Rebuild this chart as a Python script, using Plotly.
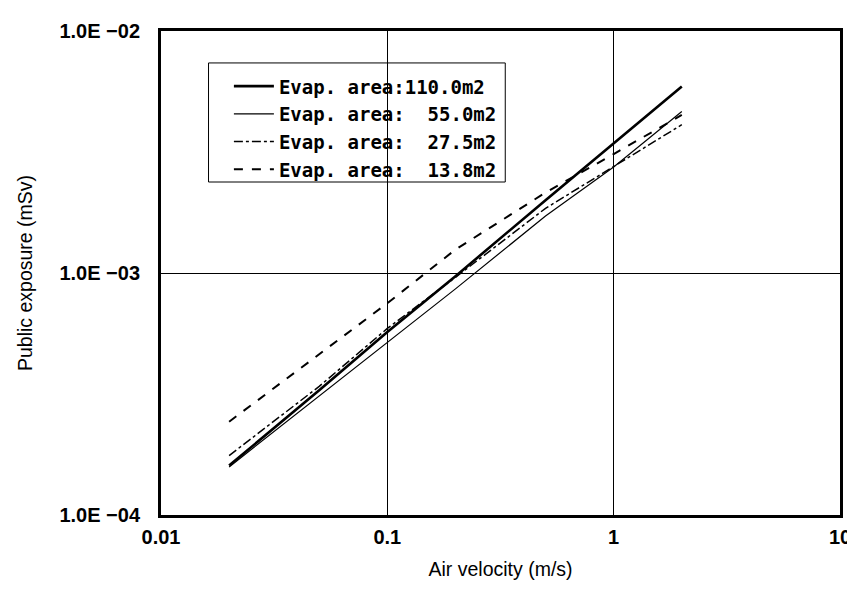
import plotly.graph_objects as go

velocity = [0.02, 0.05, 0.1, 0.2, 0.5, 1, 2]
area_110 = [1.6e-4, 3.28e-4, 5.7e-4, 9.7e-4, 2.0e-3, 3.44e-3, 5.9e-3]
area_55 = [1.58e-4, 3.1e-4, 5.2e-4, 8.6e-4, 1.72e-3, 2.74e-3, 4.65e-3]
area_27 = [1.76e-4, 3.4e-4, 5.9e-4, 9.6e-4, 1.85e-3, 2.76e-3, 4.1e-3]
area_13 = [2.43e-4, 4.6e-4, 7.5e-4, 1.25e-3, 2.15e-3, 3.1e-3, 4.5e-3]

names = ["Evap. area:110.0m2", "Evap. area:\u00a0\u00a055.0m2",
         "Evap. area:\u00a0\u00a027.5m2", "Evap. area:\u00a0\u00a013.8m2"]
series = [area_110, area_55, area_27, area_13]
styles = [dict(width=2.6, dash="solid"), dict(width=1.2, dash="solid"),
          dict(width=1.5, dash="dashdot"), dict(width=2.0, dash="dash")]

xticks = [0.01, 0.1, 1, 10]
xticktext = ["0.01", "0.1", "1", "10"]
yticks = [1e-4, 1e-3, 1e-2]
yticktext = ["1.0E \u221204", "1.0E \u221203", "1.0E \u221202"]

fig = go.Figure()
for n, s, st in zip(names, series, styles):
    fig.add_trace(go.Scatter(x=velocity, y=s, mode="lines", name=n,
                             line=dict(color="black", **st)))

tickfont = dict(size=20, family="Liberation Sans, Arial", weight="bold")
fig.update_layout(
    width=855, height=591,
    margin=dict(l=153, r=12, t=20, b=84),
    paper_bgcolor="white", plot_bgcolor="white",
    font=dict(family="Liberation Sans, Arial", color="black"),
    showlegend=True,
    legend=dict(x=0.1, y=0.925, xanchor="left", yanchor="top",
                borderwidth=0, bgcolor="rgba(0,0,0,0)",
                font=dict(family="DejaVu Sans Mono", size=19, weight="bold"),
                tracegroupgap=0, itemwidth=40),
    shapes=[dict(type="rect", xref="paper", yref="paper",
                 x0=0.07, x1=0.507, y0=0.688, y1=0.934,
                 line=dict(color="black", width=1), fillcolor="white",
                 layer="between")],
)
fig.update_xaxes(type="log", range=[-2, 1], tickvals=xticks, ticktext=xticktext,
                 showgrid=True, gridcolor="black", gridwidth=1,
                 showline=True, linecolor="black", linewidth=3, mirror=True,
                 ticks="", tickfont=tickfont, ticklabelstandoff=2,
                 title=dict(text="Air velocity (m/s)", font=dict(size=19.5), standoff=16))
fig.update_yaxes(type="log", range=[-4, -2], tickvals=yticks, ticktext=yticktext,
                 showgrid=True, gridcolor="black", gridwidth=1,
                 showline=True, linecolor="black", linewidth=3, mirror=True,
                 ticks="", tickfont=tickfont, ticklabelstandoff=14,
                 title=dict(text="Public exposure (mSv)", font=dict(size=19.5), standoff=22))

fig.write_html("out.html")
